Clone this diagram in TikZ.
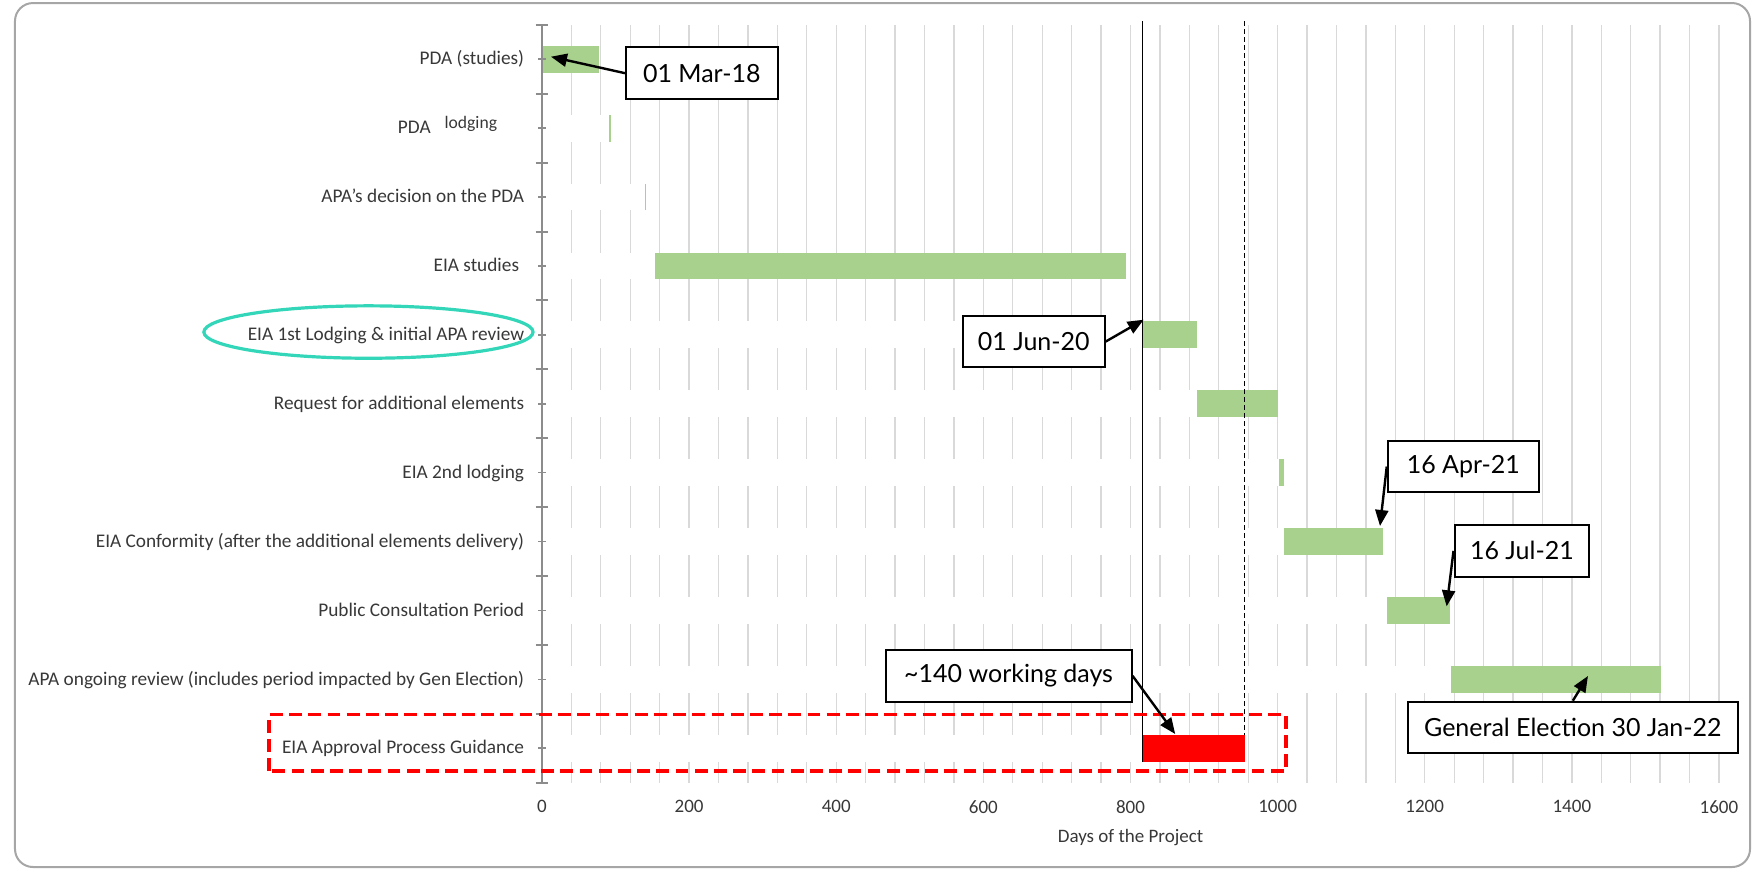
\documentclass[tikz,border=0pt]{standalone}
\usepackage{fontspec}
\setmainfont{Carlito}
\newfontfamily\boxfont{Lato}
\usepackage{xcolor}
\usetikzlibrary{arrows.meta,positioning,calc}

\definecolor{ganttgreen}{HTML}{A9D18E}
\definecolor{gridgray}{HTML}{D9D9D9}
\definecolor{axisgray}{HTML}{8C8C8C}
\definecolor{labelgray}{HTML}{383838}
\definecolor{framegray}{HTML}{A6A6A6}
\definecolor{ringteal}{HTML}{33D6B8}

\begin{document}
\begin{tikzpicture}[x=0.3678pt, y=34.45pt, >={Triangle[length=8pt,width=6.5pt]},
    bar/.style={fill=ganttgreen},
    hide/.style={fill=white},
    grid/.style={draw=gridgray, line width=0.65pt},
    cat/.style={anchor=base east, inner sep=0pt, text=labelgray, font=\fontsize{9.65}{11}\selectfont},
    tick/.style={inner sep=0pt, text=labelgray, font=\fontsize{9.5}{11}\selectfont},
    callout/.style={draw, line width=1pt, fill=white, minimum height=25.85pt, inner sep=0pt, font=\boxfont\fontsize{12.5}{15}\selectfont},
    pointer/.style={->, line width=1.2pt}]

    \useasboundingbox (-736.8,-1.2816) rectangle (1644.9,11.36);
    \draw[framegray, line width=1pt, rounded corners=9pt] (-716.4,-1.2235) rectangle (1642.2,11.316);

    \foreach \d in {40,80,...,1600}
        \draw[grid] (\d,0) -- (\d,11);

    \foreach \k/\s in {10/0, 9/91, 8/140, 7/153, 6/817, 5/890, 4/1002, 3/1008, 2/1149, 1/1236, 0/817}
        \fill[hide] (0,\k+0.306) rectangle (\s,\k+0.694);

    \foreach \k/\s/\e in {10/0/78, 9/91/94, 8/140/142, 7/153/794, 6/817/890, 5/890/1001, 4/1002/1008, 3/1008/1143, 2/1149/1234, 1/1236/1521}
        \fill[bar] (\s,\k+0.306) rectangle (\e,\k+0.694);

    \draw[black, line width=0.5pt] (817,0.306) -- (817,11.06);
    \draw[black, line width=0.5pt, dash pattern=on 2.5pt off 1.5pt] (955,0.306) -- (955,11.06);
    \fill[red] (817,0.306) rectangle (956,0.694);

    \draw[axisgray, line width=1.3pt] (0,0) -- (0,11);
    \foreach \k in {0,...,11}
        \draw[axisgray, line width=1pt] (-8.6,\k) -- (8.6,\k);
    \foreach \k in {0,...,10}
        \draw[axisgray, line width=0.8pt] (-5,\k+0.5) -- (5,\k+0.5);

    \foreach \k/\txt in {10/{PDA (studies)},
                         9/{PDA\kern7pt\raisebox{2.5pt}{\fontsize{8.8}{10}\selectfont lodging}\kern13.5pt},
                         8/{APA's decision on the PDA},
                         7/{EIA studies\kern2.5pt},
                         6/{EIA 1st Lodging \& initial APA review},
                         5/{Request for additional elements},
                         4/{EIA 2nd lodging},
                         3/{EIA Conformity (after the additional elements delivery)},
                         2/{Public Consultation Period},
                         1/{APA ongoing review (includes period impacted by Gen Election)},
                         0/{EIA Approval Process Guidance}}
        \node[cat] (row\k) at (-23.8,\k+0.417) {\txt};

    \foreach \d in {0,200,...,1600}
        \node[tick] (x\d) at (\d,-0.348) {\d};
    \node[tick, anchor=base] (xtitle) at (800,-0.871) {Days of the Project};

    \draw[ringteal, line width=1.6pt] (-235.9,6.541) ellipse [x radius=82.3pt, y radius=13.1pt];
    \draw[red, line width=1.6pt, dash pattern=on 6.4pt off 3.2pt] (-371.1,0.17) rectangle (1011.4,0.993);

    \node[callout, minimum width=75.8pt] (mar18) at (217.2,10.298) {01 Mar-18};
    \node[callout, minimum width=71pt] (jun20) at (668.5,6.403) {01 Jun-20};
    \node[callout, minimum width=75.6pt] (apr21) at (1252.5,4.589) {16 Apr-21};
    \node[callout, minimum width=67.4pt] (jul21) at (1332.1,3.365) {16 Jul-21};
    \node[callout, minimum width=123pt] (days140) at (634.3,1.551) {\textasciitilde140 working days};
    \node[callout, minimum width=165.1pt] (election) at (1401.4,0.801) {General Election 30 Jan-22};

    \coordinate (pdaStart) at (12.2,10.537);
    \coordinate (lodgeStart) at (818,6.72);
    \coordinate (confEnd) at (1139.2,3.726);
    \coordinate (pubEnd) at (1229.8,2.56);
    \coordinate (guideTop) at (860.8,0.707);
    \coordinate (reviewMid) at (1421.9,1.549);

    \draw[pointer] (mar18.west) -- (pdaStart);
    \draw[pointer] (jun20.east) -- (lodgeStart);
    \draw[pointer] (apr21.west) -- (confEnd);
    \draw[pointer] (jul21.west) -- (pubEnd);
    \draw[pointer] (days140.east) -- (guideTop);
    \draw[pointer] (election.north) -- (reviewMid);
\end{tikzpicture}
\end{document}
